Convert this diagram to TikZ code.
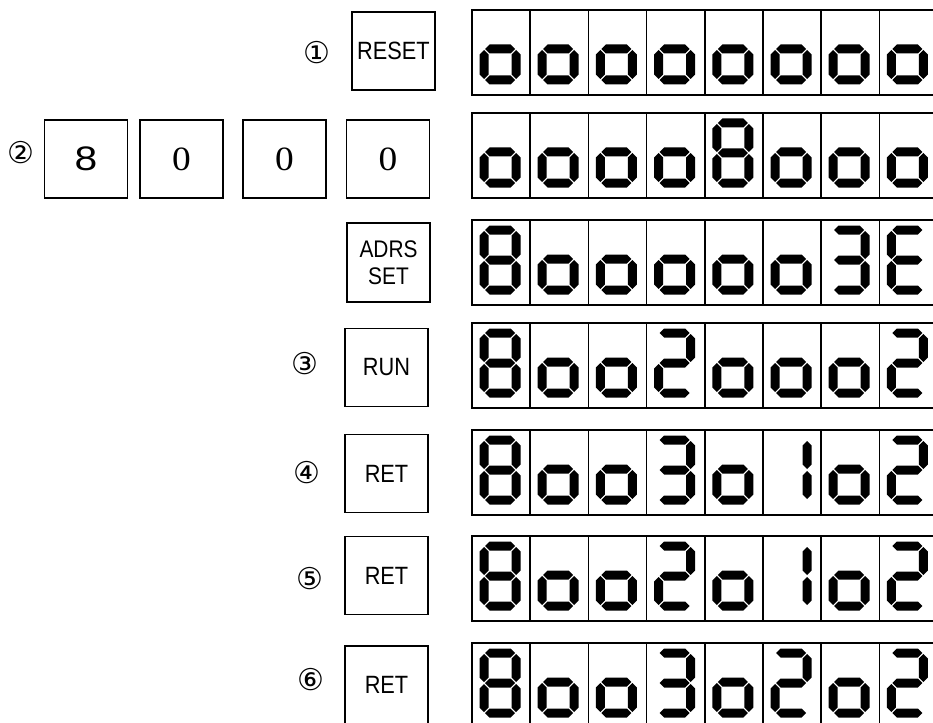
\documentclass[tikz,border=0pt]{standalone}
\usepackage{fontspec}
\setmainfont{Liberation Sans}
\newfontfamily\keyfont[FakeStretch=0.87]{Liberation Sans}
\newfontfamily\numfont[FakeStretch=1.2]{Liberation Sans}
\newfontfamily\zerofont[FakeStretch=1.1]{Liberation Serif}
\newfontfamily\tagfont{DejaVu Sans}

% one bar of a seven-segment digit (local units = px, y down)
\newcommand\hseg[1]{\fill (5,#1) -- (9.5,#1-4.5) -- (30.5,#1-4.5) -- (35,#1) -- (30.5,#1+4.5) -- (9.5,#1+4.5) -- cycle;}
\newcommand\vseg[3]{\fill (#1,#2+1) -- (#1+4.5,#2+5.5) -- (#1+4.5,#3-5.5) -- (#1,#3-1) -- (#1-4.5,#3-5.5) -- (#1-4.5,#2+5.5) -- cycle;}
\newcommand\sega{\hseg{4}}
\newcommand\segg{\hseg{34}}
\newcommand\segd{\hseg{64}}
\newcommand\segf{\vseg{4}{4}{34}}
\newcommand\sege{\vseg{4}{34}{64}}
\newcommand\segb{\vseg{36}{4}{34}}
\newcommand\segc{\vseg{36}{34}{64}}
\newcommand\segoa{\hseg{33}}
\newcommand\segod{\hseg{64}}
\newcommand\segof{\vseg{4}{33}{64}}
\newcommand\segob{\vseg{36}{33}{64}}
% segments lit for each character
\expandafter\def\csname lcd8\endcsname{a,b,c,d,e,f,g}
\expandafter\def\csname lcd3\endcsname{a,b,c,d,g}
\expandafter\def\csname lcd2\endcsname{a,b,d,e,g}
\expandafter\def\csname lcd1\endcsname{b,c}
\expandafter\def\csname lcdE\endcsname{a,d,e,f,g}
\expandafter\def\csname lcdo\endcsname{oa,ob,od,of}

\begin{document}
\begin{tikzpicture}[x=1pt, y=-1pt,
  key/.style={draw, line width=1.5pt, minimum width=83pt, minimum height=78pt, inner sep=0pt,
    font=\keyfont\fontsize{25}{25}\selectfont},
  digitkey/.style={key, font=\numfont\fontsize{34}{34}\selectfont},
  zerokey/.style={key, font=\zerofont\fontsize{34}{34}\selectfont},
  cell/.style={draw, line width=1.5pt, minimum width=58.2pt, minimum height=85pt, inner sep=0pt, outer sep=0pt},
  tag/.style={inner sep=0pt, font=\tagfont\fontsize{30}{30}\selectfont}]
\useasboundingbox (0,0) rectangle (933,722);
\clip (0,0) rectangle (933,722);

% keys
\node[tag] (t1) at (317,53) {①};
\node[key] (reset) at (393.5,51) {RESET};
\node[tag] (t2) at (21,153) {②};
\node[digitkey] (k8) at (86,159) {8};
\node[zerokey] (k0a) at (181.5,159) {0};
\node[zerokey] (k0b) at (284.5,159) {0};
\node[zerokey] (k0c) at (388,159) {0};
\node[key, minimum height=79pt, align=center, font=\keyfont\fontsize{24}{27}\selectfont] (adrs) at (388.5,262.5) {ADRS\\SET};
\node[tag] (t3) at (305,364) {③};
\node[key] (run) at (386.5,367.5) {RUN};
\node[tag] (t4) at (307,473) {④};
\node[key] (ret1) at (386.5,473.5) {RET};
\node[tag] (t5) at (310,579) {⑤};
\node[key] (ret2) at (386.5,575.5) {RET};
\node[tag] (t6) at (311,680) {⑥};
\node[key] (ret3) at (386.5,685) {RET};

% display rows
\foreach \r/\y/\ds in {1/10/{o,o,o,o,o,o,o,o}, 2/113/{o,o,o,o,8,o,o,o},
    3/220/{8,o,o,o,o,o,3,E}, 4/323/{8,o,o,2,o,o,o,2}, 5/430/{8,o,o,3,o,1,o,2},
    6/536/{8,o,o,2,o,1,o,2}, 7/643/{8,o,o,3,o,2,o,2}}
{
  \foreach \d [count=\c] in \ds {
    \node[cell, anchor=north west] (d\r-\c) at (472+58.2*\c-58.2,\y) {};
    \edef\segl{\csname lcd\d\endcsname}
    \begin{scope}[shift={(d\r-\c.north west)}, shift={(8,6)}]
      \foreach \s in \segl {\csname seg\s\endcsname}
    \end{scope}
  }
}
\end{tikzpicture}
\end{document}
